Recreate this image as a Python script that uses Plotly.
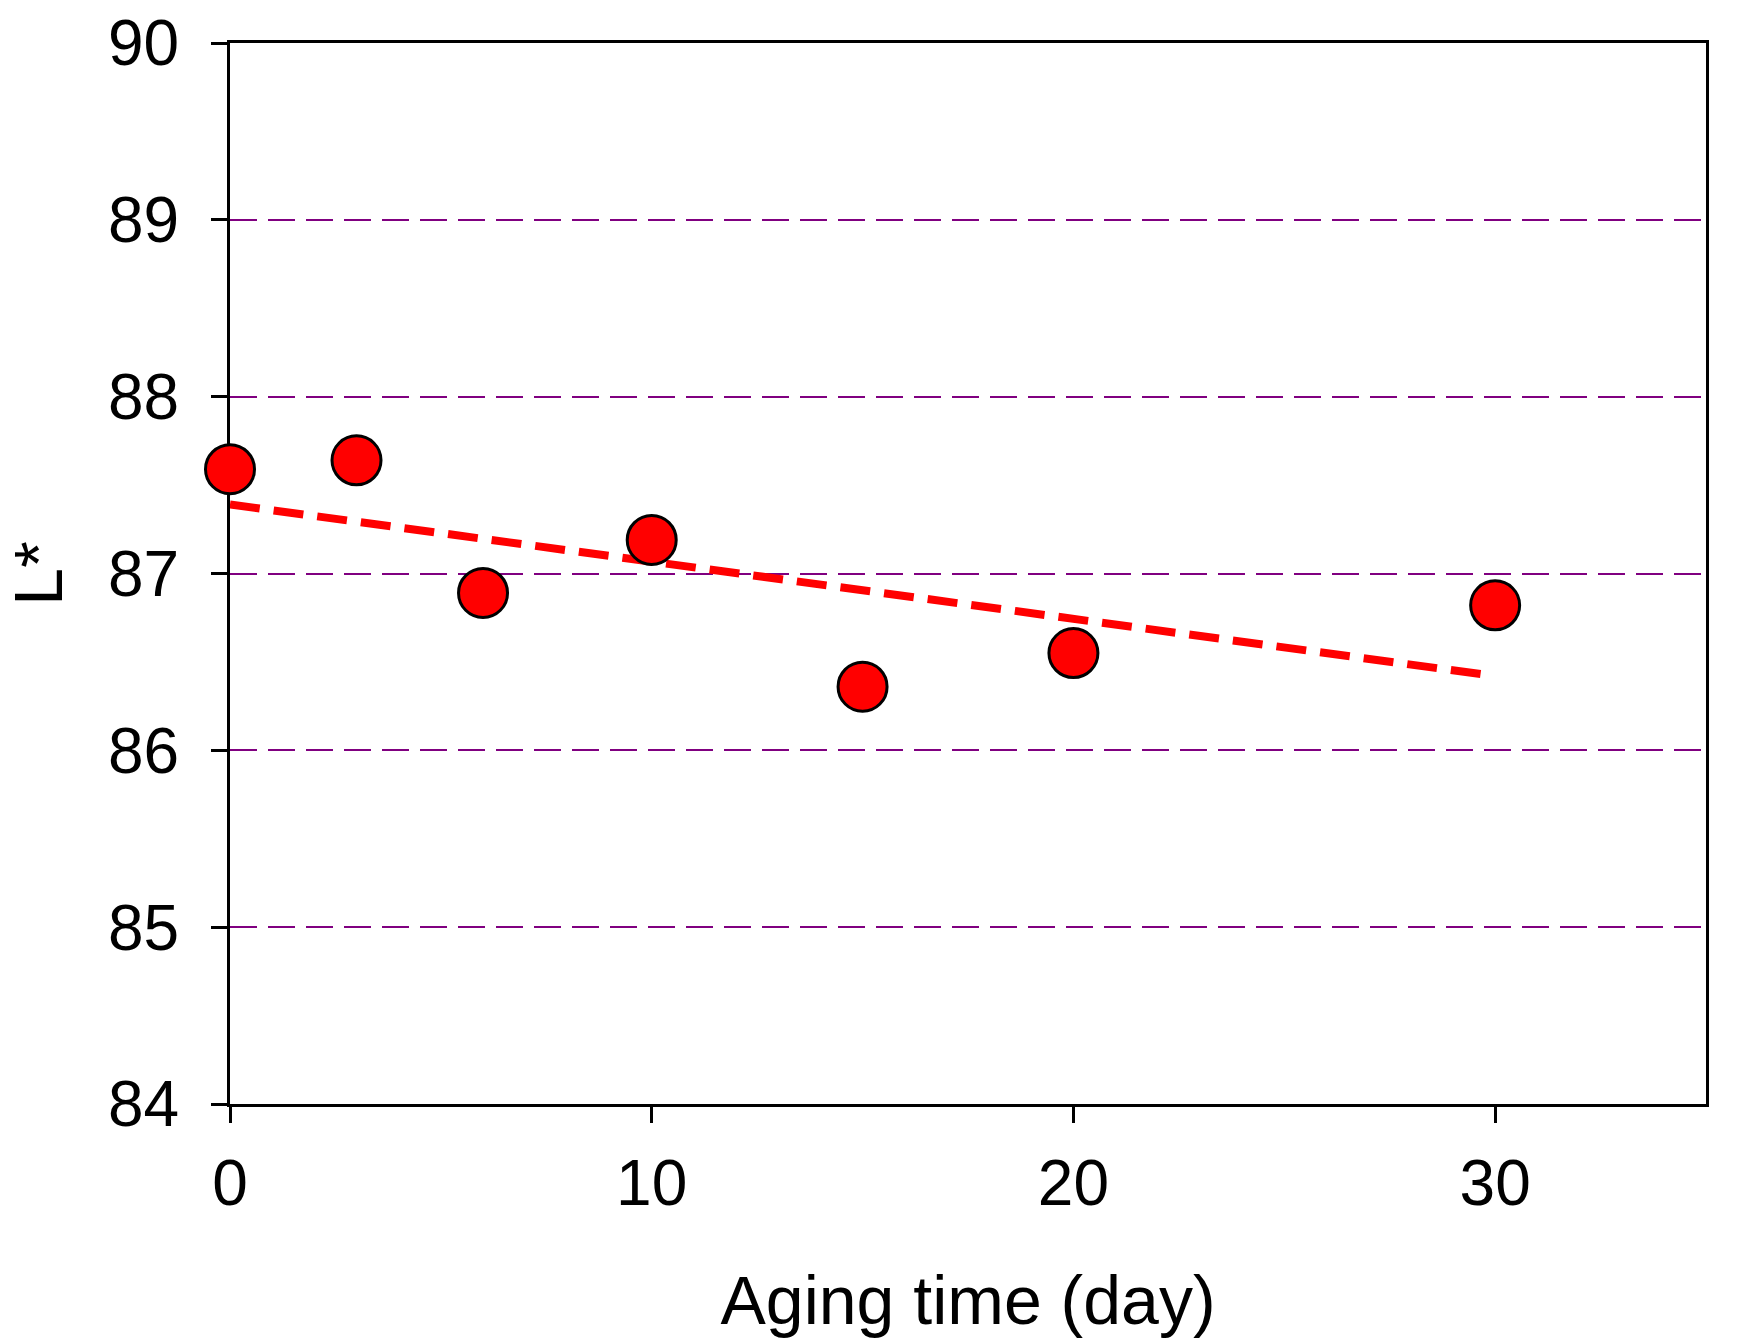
import plotly.graph_objects as go

# Data
aging_days = [0, 3, 6, 10, 15, 20, 30]
l_star = [87.59, 87.64, 86.89, 87.19, 86.36, 86.55, 86.82]

# Trend line endpoints (linear fit as drawn)
trend_x = [0, 29.7]
trend_y = [87.39, 86.43]

x_ticks = [0, 10, 20, 30]
y_ticks = [84, 85, 86, 87, 88, 89, 90]

FONT = "Liberation Sans, Arial, sans-serif"

fig = go.Figure()
fig.add_trace(go.Scatter(
    x=trend_x, y=trend_y, mode="lines",
    line=dict(color="#ff0000", width=8, dash="30px,14px"),
    hoverinfo="skip", showlegend=False, cliponaxis=False,
))
fig.add_trace(go.Scatter(
    x=aging_days, y=l_star, mode="markers",
    marker=dict(size=49, color="#ff0000", line=dict(color="black", width=3)),
    showlegend=False, cliponaxis=False,
))

fig.update_layout(
    width=1751, height=1339,
    margin=dict(l=230, r=45, t=43, b=235),
    paper_bgcolor="white", plot_bgcolor="white",
    font=dict(family=FONT, color="black"),
)
fig.update_xaxes(
    range=[0, 35], tickvals=x_ticks, ticktext=[str(v) for v in x_ticks],
    showline=True, linecolor="black", linewidth=3, mirror=True,
    ticks="outside", ticklen=16, tickwidth=3, tickcolor="black",
    showgrid=False, zeroline=False, layer="below traces", automargin=False,
    tickfont=dict(size=64, family=FONT), ticklabelstandoff=5,
    title=dict(text="Aging time (day)", font=dict(size=68, family=FONT), standoff=59),
)
fig.update_yaxes(
    range=[84, 90], tickvals=y_ticks, ticktext=[str(v) for v in y_ticks],
    showline=True, linecolor="black", linewidth=3, mirror=True,
    ticks="outside", ticklen=16, tickwidth=3, tickcolor="black",
    showgrid=True, gridcolor="#800080", gridwidth=2, griddash="27px,11px",
    zeroline=False, layer="below traces", automargin=False,
    tickfont=dict(size=64, family=FONT), ticklabelstandoff=19,
    title=dict(text="L*", font=dict(size=68, family=FONT), standoff=56),
)

fig.write_html(
    "out.html",
    config={"displayModeBar": False},
    post_script="document.body.style.margin='0';document.body.style.overflow='hidden';",
)
